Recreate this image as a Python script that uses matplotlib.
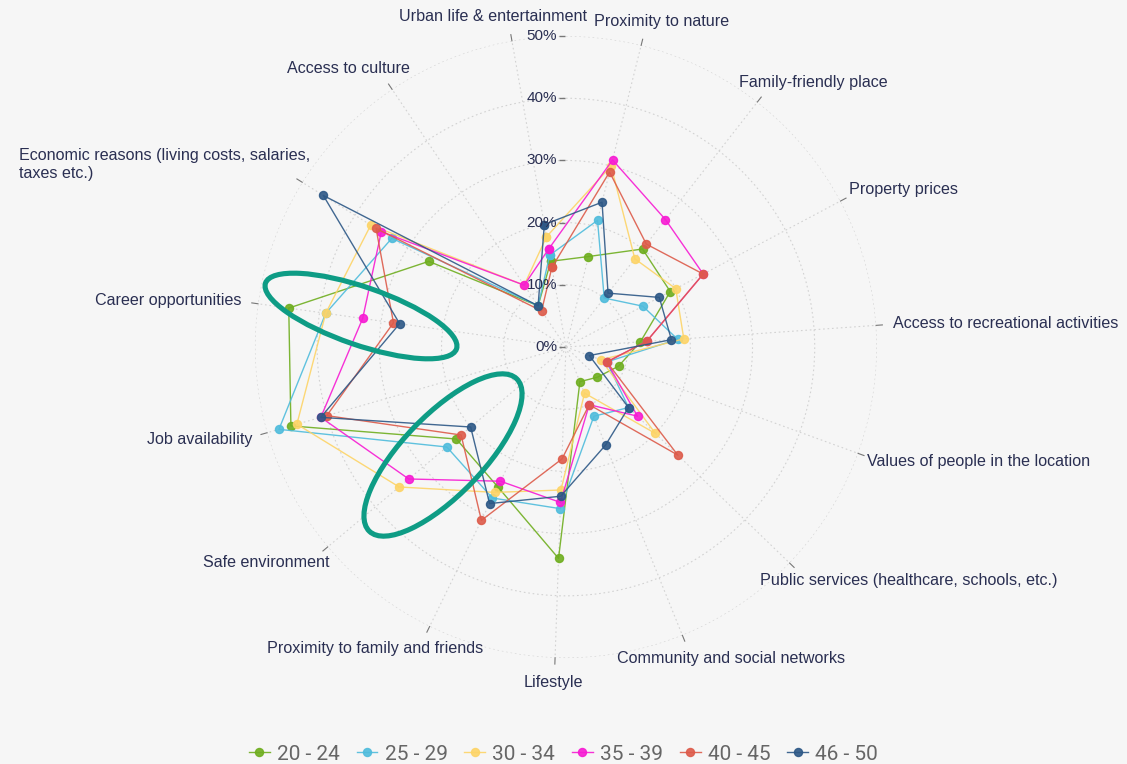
import numpy as np
import matplotlib
matplotlib.use("Agg")
import matplotlib.pyplot as plt
from matplotlib.patches import Ellipse
from matplotlib.lines import Line2D
from matplotlib.transforms import offset_copy, IdentityTransform

# Categories in drawing order (clockwise, starting just left of north)
categories = [
    "Urban life & entertainment",
    "Proximity to nature",
    "Family-friendly place",
    "Property prices",
    "Access to recreational activities",
    "Values of people in the location",
    "Public services (healthcare, schools, etc.)",
    "Community and social networks",
    "Lifestyle",
    "Proximity to family and friends",
    "Safe environment",
    "Job availability",
    "Career opportunities",
    "Economic reasons (living costs, salaries,\ntaxes etc.)",
    "Access to culture",
]

# Share of respondents (%) per age group
age_groups = ["20 - 24", "25 - 29", "30 - 34", "35 - 39", "40 - 45", "46 - 50"]
s20_24 = [14, 15, 20, 19, 12, 9, 7, 6, 34, 25, 23, 46, 45, 26, 8]
s25_29 = [15, 21, 10, 14, 18, 7, 14, 12, 26, 27, 25, 48, 39, 33, 8]
s30_34 = [18, 30, 18, 20, 19, 6, 20, 8, 23, 26, 35, 45, 39, 37, 12]
s35_39 = [16, 31, 26, 25, 13, 7, 16, 10, 25, 24, 33, 41, 33, 35, 12]
s40_45 = [13, 29, 21, 25, 13, 7, 25, 10, 18, 31, 22, 40, 28, 36, 7]
s46_50 = [20, 24, 11, 17, 17, 4, 14, 17, 24, 28, 20, 41, 27, 46, 8]
series = [s20_24, s25_29, s30_34, s35_39, s40_45, s46_50]
colors = ["#6fae1f", "#4fbcdc", "#fdd467", "#f71bd3", "#dd5b4a", "#2d5886"]

radial_ticks = [0, 10, 20, 30, 40, 50]

bg = "#f6f6f6"
text_color = "#2a2f52"

plt.rcParams["font.family"] = ["Liberation Sans", "DejaVu Sans"]

fig = plt.figure(figsize=(11.27, 7.64), dpi=100, facecolor=bg)
ax = fig.add_axes([0.2262, 0.1387, 0.5519, 0.8141], projection="polar")
ax.set_facecolor("none")
ax.set_theta_zero_location("N")
ax.set_theta_direction(-1)
ax.spines["polar"].set_visible(False)

# first category sits 10 degrees left of north, 24 degrees between spokes
theta = np.deg2rad((np.arange(len(categories)) * 24 - 10) % 360)

# closed polygons for each age group
theta_closed = np.append(theta, theta[0])
handles = []
for name, vals, col in zip(age_groups, series, colors):
    v = np.append(vals, vals[0])
    ln, = ax.plot(theta_closed, v, color=col, lw=1.0, alpha=0.9,
                  marker="o", ms=5.8, mfc=col, mec=col, label=name, clip_on=False)
    handles.append(ln)

ax.set_xticks(theta)
ax.set_xticklabels([])
ax.set_yticks(radial_ticks)
ax.set_yticklabels([])
ax.set_xlim(0, 2 * np.pi)
ax.set_ylim(0, 50)
ax.tick_params(length=0)
ax.grid(color="#d2d2d2", linestyle=(0, (1.5, 2.5)), linewidth=0.8)

# small outside ticks on the angular axis
for th in theta:
    ax.add_artist(Line2D([th, th], [50, 51], color="#777777", lw=0.8,
                         transform=ax.transData, clip_on=False))

# radial tick labels along the north axis
lab_tr = offset_copy(ax.transData, fig=fig, x=-9, y=0, units="dots")
tick_tr = offset_copy(ax.transData, fig=fig, x=-3.5, y=0, units="dots")
for r in radial_ticks:
    ax.text(0, r, f"{r}%", ha="right", va="center", fontsize=11,
            color=text_color, transform=lab_tr)
ax.add_artist(Line2D(np.zeros(len(radial_ticks)), radial_ticks, ls="none",
                     marker="_", ms=4, color="#777777", transform=tick_tr,
                     clip_on=False))

# angular labels, pushed outward according to their size
fig.canvas.draw()
renderer = fig.canvas.get_renderer()
pad = 17
for th, lab in zip(theta, categories):
    t = ax.text(th, 50, lab, ha="center", va="center", fontsize=11.6,
                color=text_color, multialignment="left")
    bb = t.get_window_extent(renderer)
    dx = np.sin(th) * (pad + bb.width / 2)
    dy = np.cos(th) * (pad + bb.height / 2)
    t.set_transform(offset_copy(ax.transData, fig=fig, x=dx, y=dy, units="dots"))

# highlight ellipses (pixel coordinates, origin bottom-left)
H = 764
for cx, cy, a, b, ang in [(361, 316, 101, 29, -19), (443, 455, 106, 40, 46)]:
    e = Ellipse((cx, H - cy), 2 * a, 2 * b, angle=ang, fill=False,
                edgecolor="#0e9c85", lw=3.7, transform=IdentityTransform())
    fig.patches.append(e)

leg = fig.legend(handles=handles, loc="center", bbox_to_anchor=(0.5, 10 / 764),
                 ncol=6, frameon=False, handlelength=1.0,
                 handletextpad=0.35, columnspacing=0.8, numpoints=1,
                 prop={"family": "Roboto", "size": 15})
for txt in leg.get_texts():
    txt.set_color("#666666")

fig.savefig("out.png", dpi=100, facecolor=bg)
